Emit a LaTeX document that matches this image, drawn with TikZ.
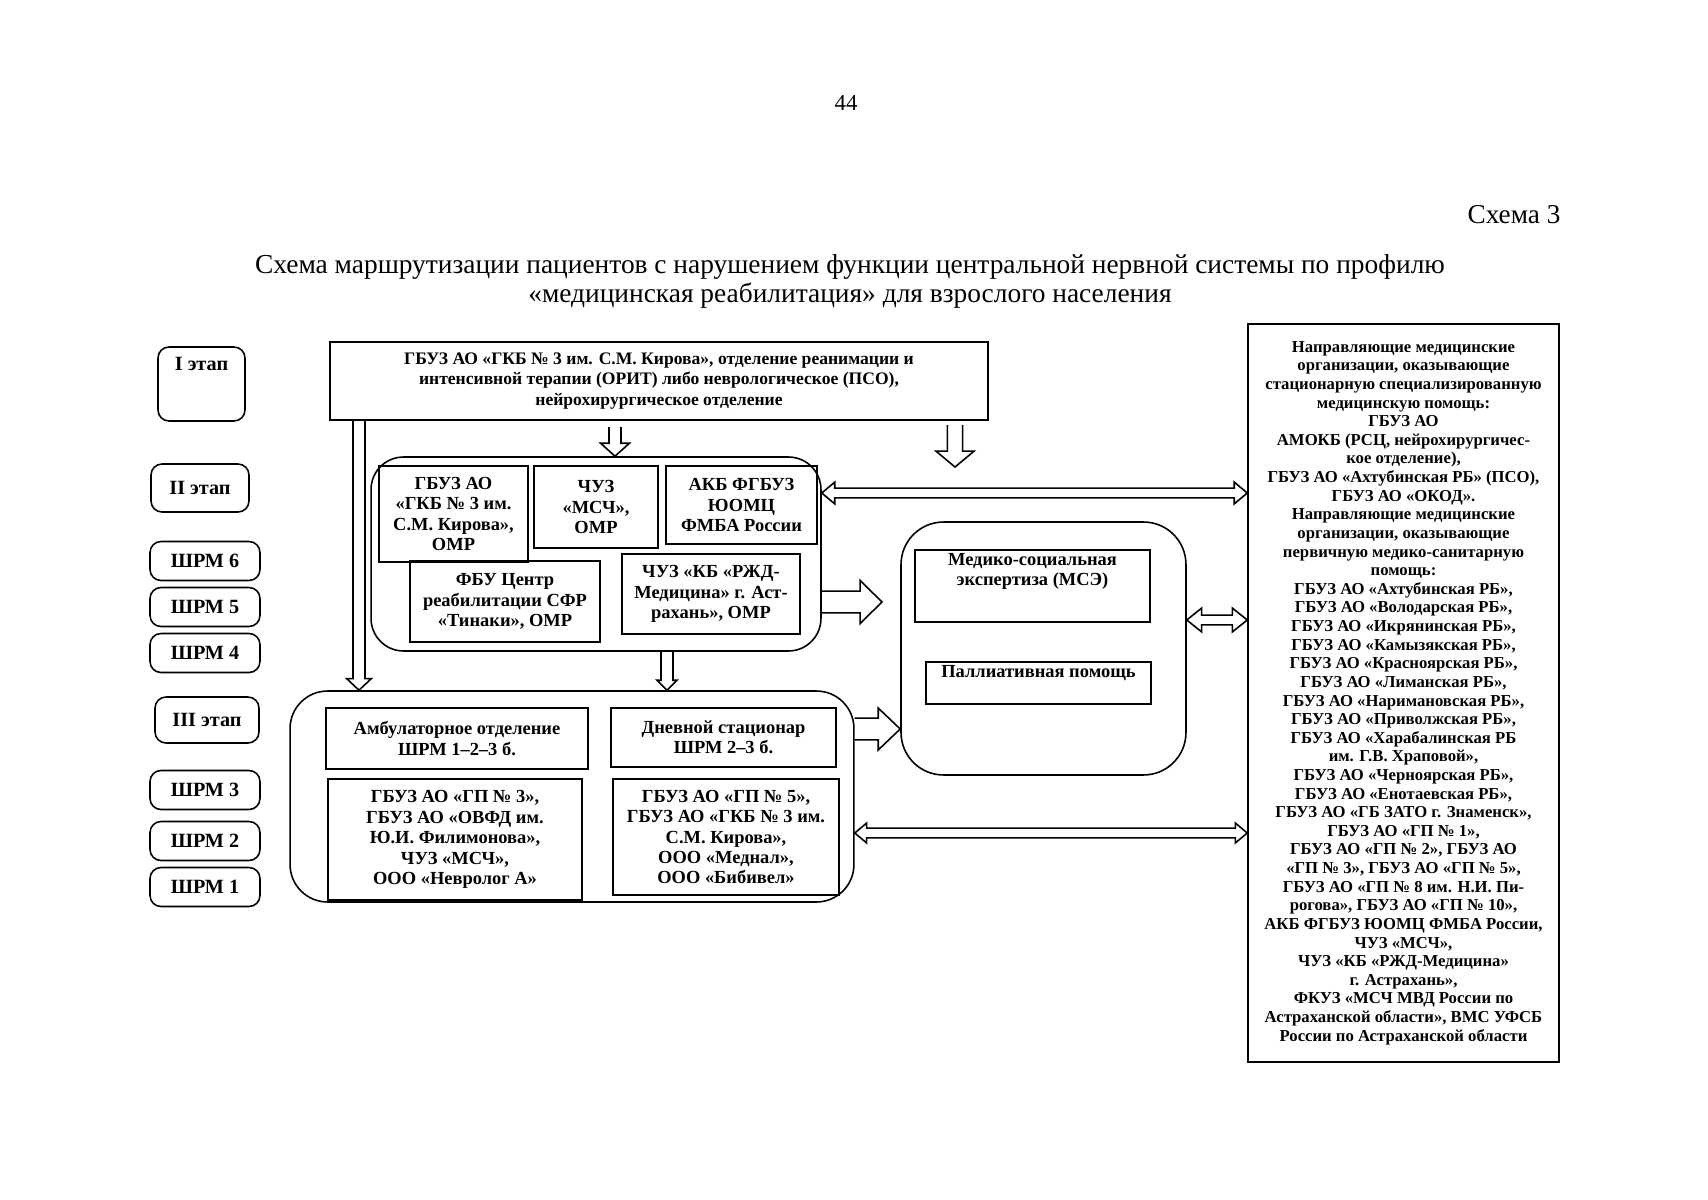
\documentclass[tikz,border=0pt]{standalone}
\usepackage{fontspec}
\setmainfont{Liberation Serif}
\usetikzlibrary{positioning,calc}

\begin{document}
\begin{tikzpicture}[x=0.02cm,y=-0.02cm,line width=0.9pt,
    stage/.style={draw,rounded corners=0.22cm,font=\bfseries\fontsize{11.5}{13}\selectfont},
    org/.style={draw,rectangle,align=center,inner sep=1pt,font=\bfseries\fontsize{10.5}{11.6}\selectfont},
    grp/.style={draw,rectangle,rounded corners=#1},
    toptext/.style={anchor=north,inner sep=2pt,font=\bfseries\fontsize{10.5}{11.6}\selectfont,align=center},
    downblk/.style n args={3}{to path={let \p1=(\tikztostart), \p2=(\tikztotarget) in
        (\x1-#1,\y1) -- (\x1-#1,\y2+#3) -- (\x1-#2,\y2+#3) -- (\x1,\y2)
        -- (\x1+#2,\y2+#3) -- (\x1+#1,\y2+#3) -- (\x1+#1,\y1)}},
    rightblk/.style n args={3}{to path={let \p1=(\tikztostart), \p2=(\tikztotarget) in
        (\x1,\y1+#1) -- (\x2-#3,\y1+#1) -- (\x2-#3,\y1+#2) -- (\x2,\y1)
        -- (\x2-#3,\y1-#2) -- (\x2-#3,\y1-#1) -- (\x1,\y1-#1)}},
    bothblk/.style n args={3}{to path={let \p1=(\tikztostart), \p2=(\tikztotarget) in
        (\x1,\y1) -- (\x1+#3,\y1+#2) -- (\x1+#3,\y1+#1) -- (\x2-#3,\y1+#1) -- (\x2-#3,\y1+#2)
        -- (\x2,\y1) -- (\x2-#3,\y1-#2) -- (\x2-#3,\y1-#1) -- (\x1+#3,\y1-#1) -- (\x1+#3,\y1-#2) -- cycle}}]

\useasboundingbox (0,0) rectangle (1708,1200);

% Page head
\node (pnum) at (846,103) {\fontsize{13}{15}\selectfont 44};
\node[anchor=east] (schema) at (1567,215) {\fontsize{15.5}{18}\selectfont Схема 3};
\node[align=center,font=\fontsize{15.6}{16.4}\selectfont] (title) at (850,281)
    {Схема маршрутизации пациентов с нарушением функции центральной нервной системы по профилю\\
     «медицинская реабилитация» для взрослого населения};

% Stages
\node[stage,minimum width=1.74cm,minimum height=1.48cm,
    label={[toptext,yshift=-4pt,font=\bfseries\fontsize{11.5}{13}\selectfont]north:I этап}] (st1) at (201.5,384) {};
\node[stage,minimum width=1.96cm,minimum height=0.96cm] (st2) at (200,488) {II этап};
\node[stage,minimum width=2.08cm,minimum height=0.92cm] (st3) at (207,720) {III этап};
\foreach \n/\y in {6/561,5/607,4/653,3/790,2/841,1/887}
    \node[stage,minimum width=2.2cm,minimum height=0.78cm] (shrm\n) at (205,\y) {ШРМ \n};

% Stage I
\node[org,minimum width=13.16cm,minimum height=1.56cm,font=\bfseries\fontsize{10}{11.9}\selectfont] (top) at (659,381)
    {ГБУЗ АО «ГКБ № 3 им. С.М. Кирова», отделение реанимации и\\
     интенсивной терапии (ОРИТ) либо неврологическое (ПСО),\\
     нейрохирургическое отделение};

% Stage II
\node[grp=0.65cm,minimum width=9cm,minimum height=3.88cm] (grp2) at (596,554) {};
\node[org,minimum width=2.98cm,minimum height=1.92cm] (g2a) at (453.5,514) {ГБУЗ АО\\«ГКБ № 3 им.\\С.М. Кирова»,\\ОМР};
\node[org,minimum width=2.48cm,minimum height=1.64cm] (g2b) at (596,507) {ЧУЗ\\«МСЧ»,\\ОМР};
\node[org,minimum width=3.02cm,minimum height=1.56cm] (g2c) at (741.5,505) {АКБ ФГБУЗ\\ЮОМЦ\\ФМБА России};
\node[org,minimum width=3.8cm,minimum height=1.62cm] (g2d) at (505,601.5) {ФБУ Центр\\реабилитации СФР\\«Тинаки», ОМР};
\node[org,minimum width=3.56cm,minimum height=1.6cm] (g2e) at (711,594) {ЧУЗ «КБ «РЖД-\\Медицина» г. Аст-\\рахань», ОМР};

% Stage III
\node[grp=0.75cm,minimum width=11.28cm,minimum height=4.22cm] (grp3) at (572,796.5) {};
\node[org,minimum width=5.24cm,minimum height=1.22cm] (g3a) at (457,738.5) {Амбулаторное отделение\\ШРМ 1–2–3 б.};
\node[org,minimum width=4.5cm,minimum height=1.18cm] (g3b) at (723.5,737.5) {Дневной стационар\\ШРМ 2–3 б.};
\node[org,minimum width=5.08cm,minimum height=2.42cm] (g3c) at (455,839.5)
    {ГБУЗ АО «ГП № 3»,\\ГБУЗ АО «ОВФД им.\\Ю.И. Филимонова»,\\ЧУЗ «МСЧ»,\\ООО «Невролог А»};
\node[org,minimum width=4.52cm,minimum height=2.32cm] (g3d) at (726,837)
    {ГБУЗ АО «ГП № 5»,\\ГБУЗ АО «ГКБ № 3 им.\\С.М. Кирова»,\\ООО «Меднал»,\\ООО «Бибивел»};

% MSE
\node[grp=0.85cm,minimum width=5.7cm,minimum height=5.06cm] (msegrp) at (1043.5,648.5) {};
\node[org,minimum width=4.7cm,minimum height=1.44cm,
    label={[toptext]north:Медико-социальная\\экспертиза (МСЭ)}] (mse) at (1032.5,586) {};
\node[org,minimum width=4.5cm,minimum height=0.84cm,
    label={[toptext]north:Паллиативная помощь}] (pall) at (1038.5,683) {};

% Directing organisations
\node[org,minimum width=6.22cm,minimum height=14.76cm,font=\bfseries\fontsize{9.5}{10.6}\selectfont] (dir) at (1403.5,693)
    {Направляющие медицинские\\
     организации, оказывающие\\
     стационарную специализированную\\
     медицинскую помощь:\\
     ГБУЗ АО\\
     АМОКБ (РСЦ, нейрохирургичес-\\
     кое отделение),\\
     ГБУЗ АО «Ахтубинская РБ» (ПСО),\\
     ГБУЗ АО «ОКОД».\\
     Направляющие медицинские\\
     организации, оказывающие\\
     первичную медико-санитарную\\
     помощь:\\
     ГБУЗ АО «Ахтубинская РБ»,\\
     ГБУЗ АО «Володарская РБ»,\\
     ГБУЗ АО «Икрянинская РБ»,\\
     ГБУЗ АО «Камызякская РБ»,\\
     ГБУЗ АО «Красноярская РБ»,\\
     ГБУЗ АО «Лиманская РБ»,\\
     ГБУЗ АО «Наримановская РБ»,\\
     ГБУЗ АО «Приволжская РБ»,\\
     ГБУЗ АО «Харабалинская РБ\\
     им. Г.В. Храповой»,\\
     ГБУЗ АО «Черноярская РБ»,\\
     ГБУЗ АО «Енотаевская РБ»,\\
     ГБУЗ АО «ГБ ЗАТО г. Знаменск»,\\
     ГБУЗ АО «ГП № 1»,\\
     ГБУЗ АО «ГП № 2», ГБУЗ АО\\
     «ГП № 3», ГБУЗ АО «ГП № 5»,\\
     ГБУЗ АО «ГП № 8 им. Н.И. Пи-\\
     рогова», ГБУЗ АО «ГП № 10»,\\
     АКБ ФГБУЗ ЮОМЦ ФМБА России,\\
     ЧУЗ «МСЧ»,\\
     ЧУЗ «КБ «РЖД-Медицина»\\
     г. Астрахань»,\\
     ФКУЗ «МСЧ МВД России по\\
     Астраханской области», ВМС УФСБ\\
     России по Астраханской области};

% Arrows
\coordinate (xL) at (359,0);
\coordinate (xM) at (667,0);
\coordinate (a1s) at (615,427);
\coordinate (a2s) at (955,425);
\coordinate (a2e) at (955,467);
\coordinate (r1e) at (882,602);
\coordinate (yA) at (0,493);
\coordinate (yB) at (0,620);
\coordinate (yC) at (0,833);
\coordinate (yR1) at (0,602);
\coordinate (yR2) at (0,729);

\draw (top.south -| xL) to[downblk={3.4pt}{7pt}{6.6pt}] (grp3.north -| xL);
\draw (a1s) to[downblk={3.4pt}{8.2pt}{7.4pt}] (grp2.north -| a1s);
\draw (a2s) to[downblk={4.3pt}{10.8pt}{9pt}] (a2e);
\draw (grp2.south -| xM) to[downblk={3.4pt}{5.7pt}{5.7pt}] (grp3.north -| xM);
\draw (grp2.east |- yR1) to[rightblk={6.2pt}{12.3pt}{12.5pt}] (r1e);
\draw (grp3.east |- yR2) to[rightblk={6.2pt}{11.9pt}{12.5pt}] (msegrp.west |- yR2);
\draw (grp2.east |- yA) to[bothblk={2.8pt}{6.2pt}{7.4pt}] (dir.west |- yA);
\draw (msegrp.east |- yB) to[bothblk={2.8pt}{6.8pt}{8.5pt}] (dir.west |- yB);
\draw (grp3.east |- yC) to[bothblk={2.8pt}{5.7pt}{6.8pt}] (dir.west |- yC);

\end{tikzpicture}
\end{document}
